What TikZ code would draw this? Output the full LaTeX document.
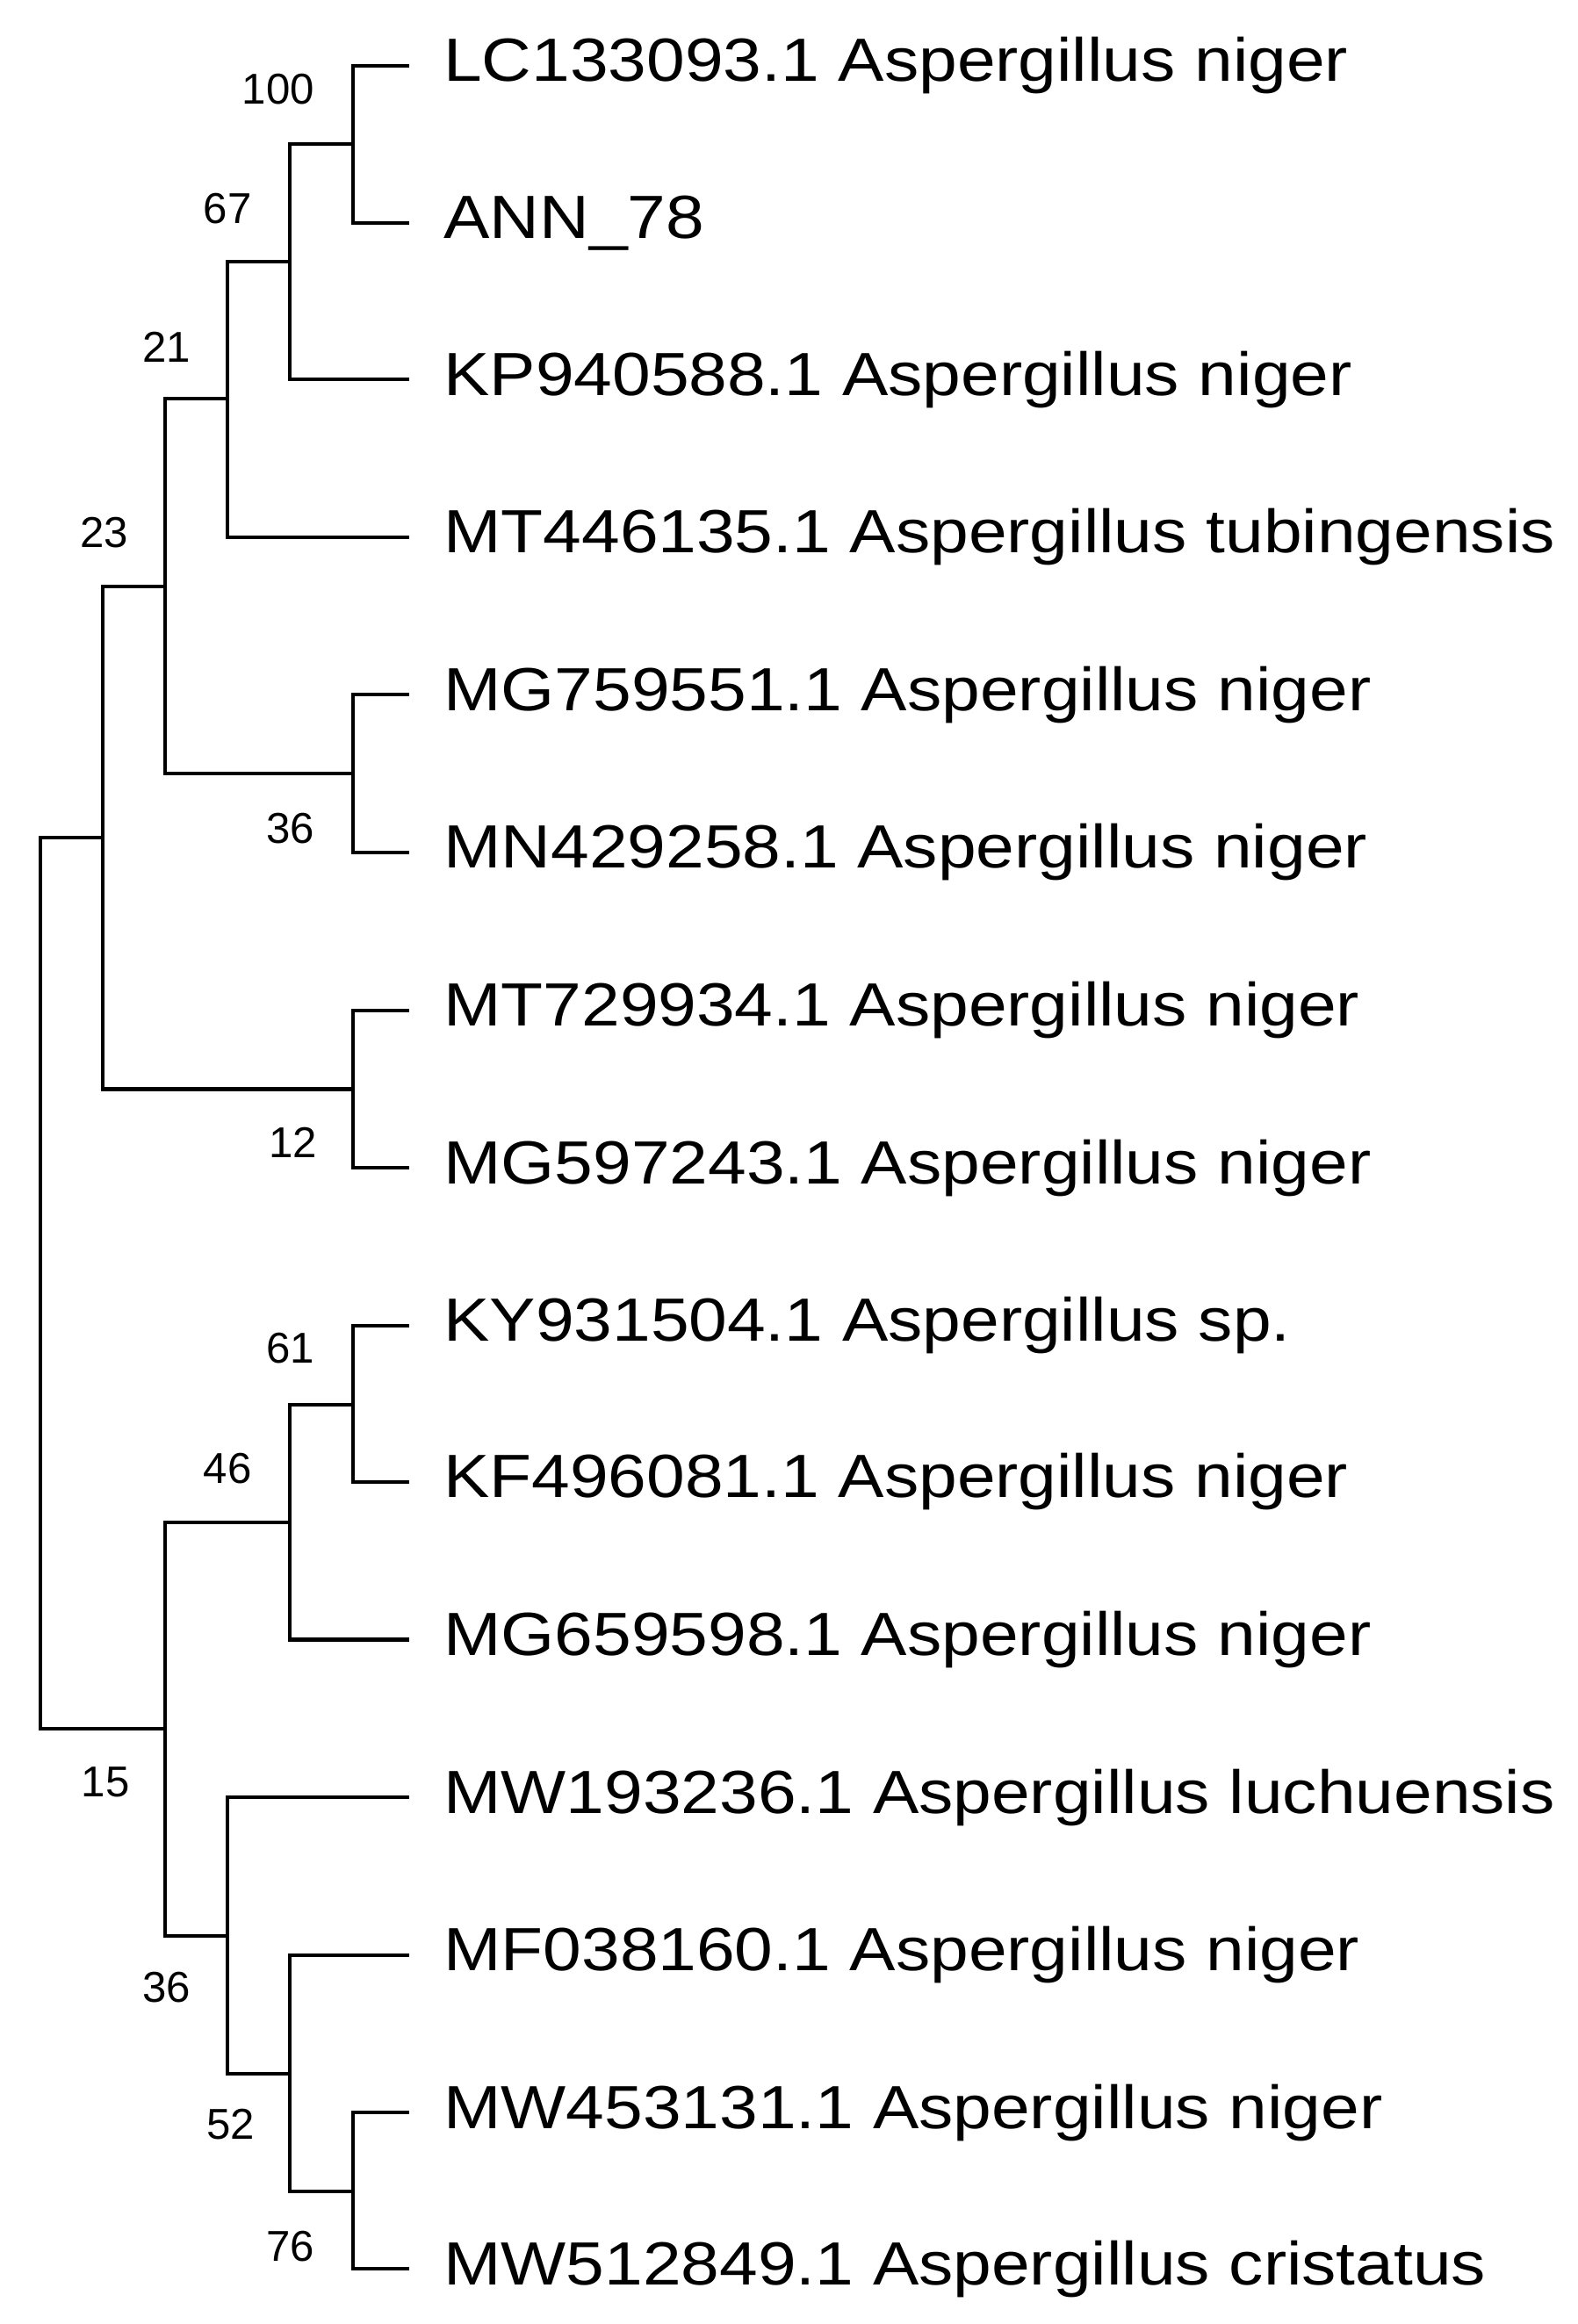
\documentclass[tikz,border=0pt]{standalone}
\usepackage{fontspec}
\usepackage{graphicx}
\setmainfont{Liberation Sans}
\begin{document}
\begin{tikzpicture}[x=1pt,y=-1pt,line width=2.4pt,
 tip/.style={anchor=west,inner sep=0pt,font=\fontsize{41}{41}\selectfont},
 bs/.style={font=\fontsize{29}{29}\selectfont,inner sep=0pt}]
\useasboundingbox (0,0) rectangle (1060,1562);
\foreach \n/\y/\t in {t1/44/LC133093.1 Aspergillus niger, t2/150/ANN\_78, t3/255/KP940588.1 Aspergillus niger, t4/361/MT446135.1 Aspergillus tubingensis, t5/467/MG759551.1 Aspergillus niger, t6/573/MN429258.1 Aspergillus niger, t7/679/MT729934.1 Aspergillus niger, t8/785/MG597243.1 Aspergillus niger, t9/891/KY931504.1 Aspergillus sp., t10/996/KF496081.1 Aspergillus niger, t11/1102/MG659598.1 Aspergillus niger, t12/1208/MW193236.1 Aspergillus luchuensis, t13/1314/MF038160.1 Aspergillus niger, t14/1420/MW453131.1 Aspergillus niger, t15/1525/MW512849.1 Aspergillus cristatus}
 {\node[tip] (\n) at (297,\y) {\scalebox{1.13}[1]{\t}}; \coordinate (\n e) at (275,\y);}
\coordinate (A) at (237,97);
\coordinate (B) at (195,176);
\coordinate (C) at (153,268);
\coordinate (D) at (237,520);
\coordinate (E) at (111,394);
\coordinate (G) at (237,732);
\coordinate (F) at (69,563);
\coordinate (H) at (237,944);
\coordinate (I) at (195,1023);
\coordinate (K) at (237,1473);
\coordinate (J) at (195,1394);
\coordinate (L) at (153,1301);
\coordinate (M) at (111,1162);
\coordinate (R) at (27,862);
\foreach \p/\a/\b in {A/t1e/t2e, B/A/t3e, C/B/t4e, D/t5e/t6e, E/C/D, G/t7e/t8e, F/E/G, H/t9e/t10e, I/H/t11e, K/t14e/t15e, J/t13e/K, L/t12e/J, M/I/L, R/F/M}
 \draw (\a) -| (\p |- \a) -- (\p |- \b) -- (\b);
\foreach \l/\x/\y in {100/187/60, 67/153/140, 21/112/233, 23/70/358, 36/195/557, 12/197/768, 61/195/906, 46/153/987, 15/71/1198, 36/112/1336, 52/155/1428, 76/195/1510}
 \node[bs] at (\x,\y) {\l};
\end{tikzpicture}
\end{document}
